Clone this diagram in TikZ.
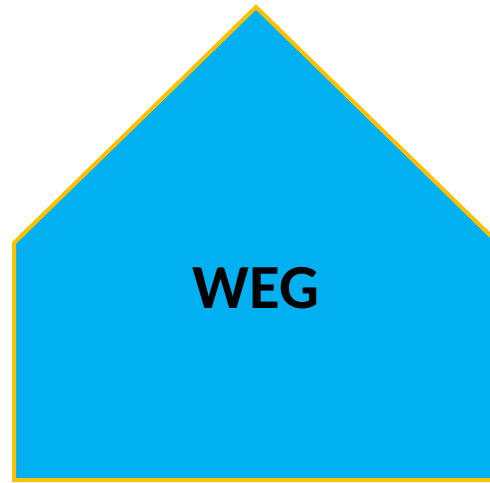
\documentclass[tikz,border=0pt]{standalone}
\usepackage{fontspec}
\setmainfont{Carlito}
\definecolor{wegblue}{HTML}{00B0F0}
\definecolor{weggold}{HTML}{FFC000}
\begin{document}
\begin{tikzpicture}[
    x=1bp,
    y=-1bp,
    house/.style={
        draw=weggold,
        fill=wegblue,
        line width=4bp,
        line join=miter
    },
    lbl/.style={
        font=\fontsize{63}{63}\selectfont\bfseries,
        text=black,
        inner sep=0pt
    }
]

\useasboundingbox (0,0) rectangle (490,483);
\clip (0,0) rectangle (490,483);

\coordinate (apex) at (256,7);
\coordinate (lefttop) at (14,243);
\coordinate (leftbot) at (14,480);
\coordinate (rightbot) at (498,480);
\coordinate (righttop) at (498,243);

\draw[house]
    (apex) --
    (lefttop) --
    (leftbot) --
    (rightbot) --
    (righttop) --
    cycle;

\node[lbl] (weg) at (256,288)
    {WEG};

\end{tikzpicture}
\end{document}
